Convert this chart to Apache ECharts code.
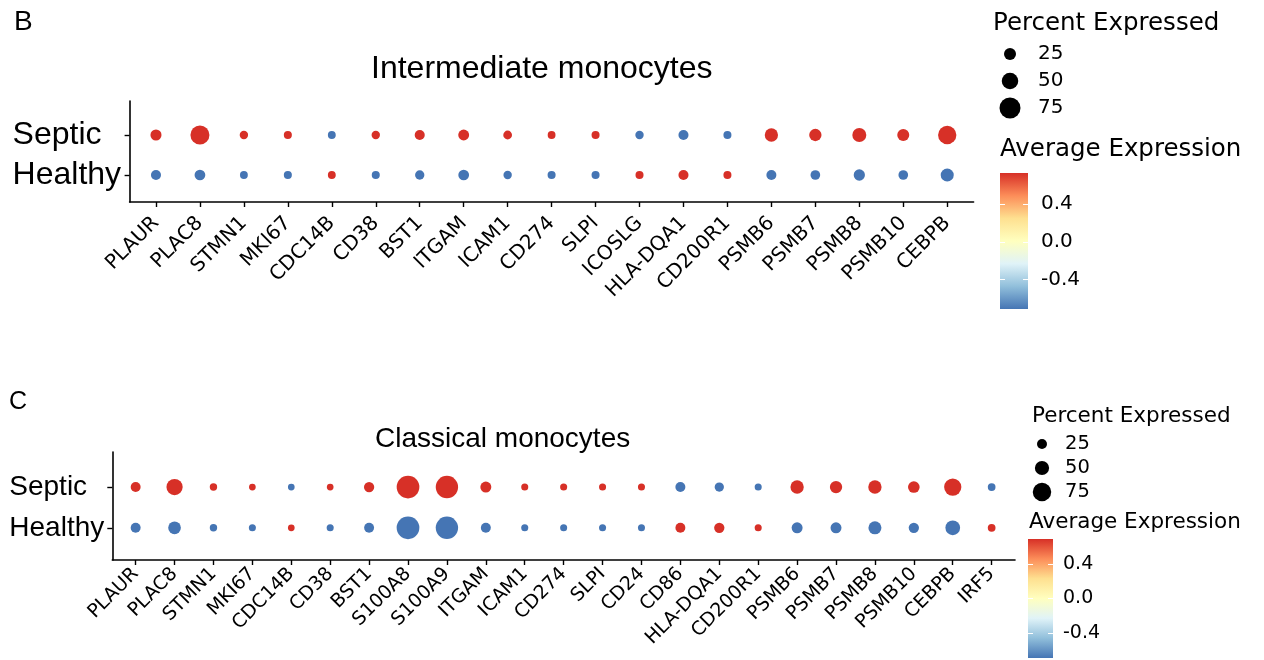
<!DOCTYPE html>
<html><head><meta charset="utf-8">
<script src="https://cdn.jsdelivr.net/npm/echarts@6/dist/echarts.min.js"></script>
<style>html,body{margin:0;padding:0;background:#fff}#c{width:1264px;height:660px}</style>
</head><body><div id="c"></div>
<script>
// ---------- data ----------
const rows = ['Healthy', 'Septic'];

const genesB = ['PLAUR','PLAC8','STMN1','MKI67','CDC14B','CD38','BST1','ITGAM','ICAM1','CD274','SLPI','ICOSLG','HLA-DQA1','CD200R1','PSMB6','PSMB7','PSMB8','PSMB10','CEBPB'];
const septicPctB  = [20, 64, 5, 3, 2, 5, 14, 19, 7, 2, 3, 5, 14, 3, 32, 27, 36, 25, 60];
const healthyPctB = [14, 18, 2, 3, 2, 3, 10, 18, 5, 3, 3, 3, 14, 3, 14, 12, 21, 12, 31];
const septicExpB  = [0.71, 0.71, 0.71, 0.71, -0.71, 0.71, 0.71, 0.71, 0.71, 0.71, 0.71, -0.71, -0.71, -0.71, 0.71, 0.71, 0.71, 0.71, 0.71];
const healthyExpB = [-0.71, -0.71, -0.71, -0.71, 0.71, -0.71, -0.71, -0.71, -0.71, -0.71, -0.71, 0.71, 0.71, 0.71, -0.71, -0.71, -0.71, -0.71, -0.71];

const genesC = ['PLAUR','PLAC8','STMN1','MKI67','CDC14B','CD38','BST1','S100A8','S100A9','ITGAM','ICAM1','CD274','SLPI','CD24','CD86','HLA-DQA1','CD200R1','PSMB6','PSMB7','PSMB8','PSMB10','CEBPB','IRF5'];
const septicPctC  = [25, 62, 10, 6, 6, 6, 27, 100, 98, 31, 8, 8, 8, 8, 25, 21, 8, 45, 39, 45, 35, 68, 12];
const healthyPctC = [25, 41, 10, 8, 6, 8, 25, 100, 98, 25, 8, 8, 8, 8, 25, 27, 8, 31, 31, 43, 27, 53, 12];
const septicExpC  = [0.71, 0.71, 0.71, 0.71, -0.71, 0.71, 0.71, 0.71, 0.71, 0.71, 0.71, 0.71, 0.71, 0.71, -0.71, -0.71, -0.71, 0.71, 0.71, 0.71, 0.71, 0.71, -0.71];
const healthyExpC = [-0.71, -0.71, -0.71, -0.71, 0.71, -0.71, -0.71, -0.71, -0.71, -0.71, -0.71, -0.71, -0.71, -0.71, 0.71, 0.71, 0.71, -0.71, -0.71, -0.71, -0.71, -0.71, 0.71];

const sizeLegendValues = [25, 50, 75];
const colorTicks = [-0.4, 0, 0.4];
const palette = ['#4575b4','#91bfdb','#e0f3f8','#ffffbf','#fee090','#fc8d59','#d73027'];

// ---------- helpers ----------
const sizeB = p => 7.5 + 0.18 * p;
const sizeC = p => 5.7 + 0.17 * p;
function build(sp, hp, se, he) {
  const out = [];
  sp.forEach((v, i) => { out.push([i, 1, v, se[i]]); out.push([i, 0, hp[i], he[i]]); });
  return out;
}
const idx = a => a.map((_, i) => i);
const DJ = 'DejaVu Sans';
const AR = 'Liberation Sans, Arial, sans-serif';
const gradient = {
  type: 'linear', x: 0, y: 0, x2: 0, y2: 1,
  colorStops: palette.slice().reverse().map((c, i) => ({ offset: i / (palette.length - 1), color: c }))
};

function mainX(grid, genes, fs, margin) {
  return {
    type: 'value', gridIndex: grid, min: -0.6, max: genes.length - 0.4,
    splitLine: { show: false },
    axisLine: { onZero: false, lineStyle: { color: '#000', width: 1.6 } },
    axisTick: { customValues: idx(genes), length: 5, lineStyle: { color: '#000', width: 1.4 } },
    axisLabel: { customValues: idx(genes), formatter: v => genes[Math.round(v)], rotate: 45, margin: margin,
      fontFamily: DJ, fontSize: fs, color: '#000' }
  };
}
function mainY(grid, min, max, fs, margin) {
  return {
    type: 'value', gridIndex: grid, min: min, max: max,
    splitLine: { show: false },
    axisLine: { onZero: false, lineStyle: { color: '#000', width: 1.6 } },
    axisTick: { customValues: [0, 1], length: 5, lineStyle: { color: '#000', width: 1.4 } },
    axisLabel: { customValues: [0, 1], formatter: v => rows[Math.round(v)], align: 'left', margin: margin,
      fontFamily: AR, fontSize: fs, color: '#000' }
  };
}
function hiddenX(grid, min, max) {
  return { type: 'value', gridIndex: grid, min: min, max: max, show: false };
}
function barY(grid, min, max, withLabels, fs, margin) {
  return {
    type: 'value', gridIndex: grid, min: min, max: max, position: withLabels ? 'right' : 'left',
    splitLine: { show: false }, axisLine: { show: false, onZero: false },
    axisTick: { show: true, inside: true, length: 5, customValues: colorTicks, lineStyle: { color: '#fff', width: 1 } },
    axisLabel: { show: withLabels, customValues: colorTicks, margin: margin, formatter: v => v.toFixed(1),
      fontFamily: DJ, fontSize: fs, color: '#000', align: 'left' }
  };
}
function sizeY(grid, fs, margin) {
  return {
    type: 'category', gridIndex: grid, data: sizeLegendValues.map(String), inverse: true, position: 'right',
    axisLine: { show: false, onZero: false }, axisTick: { show: false },
    axisLabel: { interval: 0, margin: margin, fontFamily: DJ, fontSize: fs, color: '#000', align: 'left' }
  };
}
function txt(text, left, top, fs, fam) {
  return { text: text, left: left, top: top, padding: 0,
    textStyle: { fontFamily: fam, fontSize: fs, fontWeight: 'normal', color: '#000' } };
}

const option = {
  animation: false,
  backgroundColor: '#fff',
  title: [
    txt('B', 14, 8, 28, AR),
    txt('Intermediate monocytes', 371, 53, 32, AR),
    txt('Percent Expressed', 993, 11, 24.5, DJ),
    txt('Average Expression', 1000, 137, 24.5, DJ),
    txt('C', 9, 390, 25, AR),
    txt('Classical monocytes', 375, 425, 28, AR),
    txt('Percent Expressed', 1032, 405, 21.5, DJ),
    txt('Average Expression', 1029, 511, 21.5, DJ)
  ],
  grid: [
    { left: 129.6, top: 101, width: 844, height: 101 },
    { left: 112.3, top: 452, width: 902.7, height: 108 },
    { left: 1000, top: 173, width: 28, height: 136, show: true, backgroundColor: gradient, borderWidth: 0 },
    { left: 1028, top: 539, width: 25, height: 119, show: true, backgroundColor: gradient, borderWidth: 0 },
    { left: 1000, top: 40.5, width: 20, height: 81 },
    { left: 1032, top: 432, width: 20, height: 72 }
  ],
  xAxis: [
    mainX(0, genesB, 20, 18),
    mainX(1, genesC, 19, 11),
    hiddenX(2, 0, 1),
    hiddenX(3, 0, 1),
    hiddenX(4, -1, 1),
    hiddenX(5, -1, 1)
  ],
  yAxis: [
    mainY(0, -0.675, 1.85, 32, 117),
    mainY(1, -0.79, 1.86, 28, 103),
    barY(2, -0.71, 0.73, false, 20, 13),
    barY(2, -0.71, 0.73, true, 20, 13),
    barY(3, -0.69, 0.69, false, 19, 10),
    barY(3, -0.69, 0.69, true, 19, 10),
    sizeY(4, 20, 18),
    sizeY(5, 19.5, 13)
  ],
  visualMap: [{
    type: 'continuous', show: false, min: -0.707, max: 0.707, dimension: 3, seriesIndex: [0, 1],
    inRange: { color: palette }
  }],
  series: [
    { type: 'scatter', xAxisIndex: 0, yAxisIndex: 0, data: build(septicPctB, healthyPctB, septicExpB, healthyExpB),
      symbolSize: v => sizeB(v[2]), itemStyle: { opacity: 1 }, emphasis: { disabled: true } },
    { type: 'scatter', xAxisIndex: 1, yAxisIndex: 1, data: build(septicPctC, healthyPctC, septicExpC, healthyExpC),
      symbolSize: v => sizeC(v[2]), itemStyle: { opacity: 1 }, emphasis: { disabled: true } },
    { type: 'scatter', xAxisIndex: 4, yAxisIndex: 6, data: sizeLegendValues.map(v => [0, String(v), v]),
      symbolSize: v => sizeB(v[2]), itemStyle: { color: '#000', opacity: 1 }, emphasis: { disabled: true } },
    { type: 'scatter', xAxisIndex: 5, yAxisIndex: 7, data: sizeLegendValues.map(v => [0, String(v), v]),
      symbolSize: v => sizeC(v[2]), itemStyle: { color: '#000', opacity: 1 }, emphasis: { disabled: true } },
    { type: 'scatter', xAxisIndex: 2, yAxisIndex: 2, data: [] },
    { type: 'scatter', xAxisIndex: 3, yAxisIndex: 4, data: [] }
  ]
};
const chart = echarts.init(document.getElementById('c'), null, { renderer: 'canvas' });
chart.setOption(option);
</script>
</body></html>
